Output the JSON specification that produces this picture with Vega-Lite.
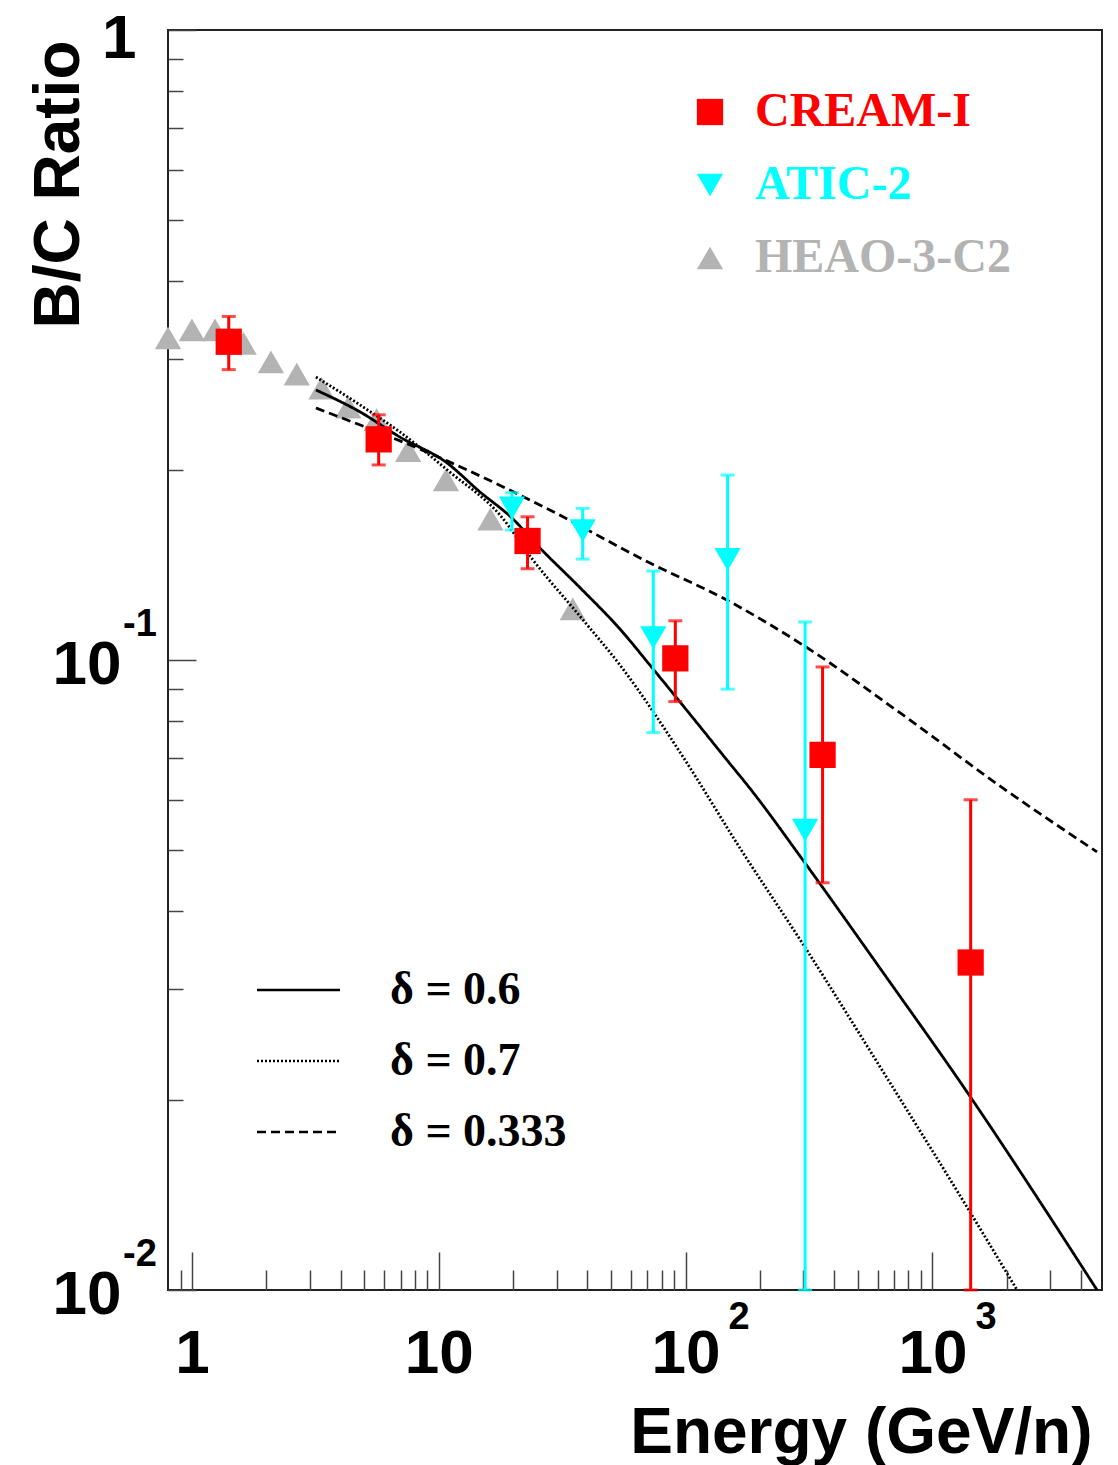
{
  "$schema": "https://vega.github.io/schema/vega-lite/v6.json",
  "width": 934,
  "height": 1260,
  "autosize": {"type": "none"},
  "padding": {"left": 168, "top": 30, "right": 16, "bottom": 175},
  "background": "white",
  "config": {"view": {"stroke": "#222", "strokeWidth": 2}, "font": "Liberation Sans"},
  "datasets": {
    "points": [
      {"series": "HEAO-3-C2", "E": 0.80, "R": 0.3245},
      {"series": "HEAO-3-C2", "E": 1.0, "R": 0.3341},
      {"series": "HEAO-3-C2", "E": 1.24, "R": 0.3341},
      {"series": "HEAO-3-C2", "E": 1.62, "R": 0.318},
      {"series": "HEAO-3-C2", "E": 2.09, "R": 0.2972},
      {"series": "HEAO-3-C2", "E": 2.66, "R": 0.2844},
      {"series": "HEAO-3-C2", "E": 3.35, "R": 0.2702},
      {"series": "HEAO-3-C2", "E": 4.30, "R": 0.2521},
      {"series": "HEAO-3-C2", "E": 5.60, "R": 0.2408},
      {"series": "HEAO-3-C2", "E": 7.52, "R": 0.215},
      {"series": "HEAO-3-C2", "E": 10.7, "R": 0.1931},
      {"series": "HEAO-3-C2", "E": 16.2, "R": 0.1674},
      {"series": "HEAO-3-C2", "E": 34.9, "R": 0.1205},
      {"series": "ATIC-2", "E": 19.8, "R": 0.1743, "lo": 0.1608, "hi": 0.1843},
      {"series": "ATIC-2", "E": 38.3, "R": 0.1604, "lo": 0.1446, "hi": 0.174},
      {"series": "ATIC-2", "E": 74.0, "R": 0.1085, "lo": 0.0767, "hi": 0.1384},
      {"series": "ATIC-2", "E": 148, "R": 0.1445, "lo": 0.0899, "hi": 0.1966},
      {"series": "ATIC-2", "E": 305, "R": 0.0537, "lo": 0.01, "hi": 0.1149},
      {"series": "CREAM-I", "E": 1.41, "R": 0.32, "lo": 0.289, "hi": 0.351},
      {"series": "CREAM-I", "E": 5.71, "R": 0.224, "lo": 0.204, "hi": 0.245},
      {"series": "CREAM-I", "E": 22.9, "R": 0.1545, "lo": 0.1396, "hi": 0.1688},
      {"series": "CREAM-I", "E": 90.9, "R": 0.1006, "lo": 0.0859, "hi": 0.1154},
      {"series": "CREAM-I", "E": 359, "R": 0.0707, "lo": 0.0443, "hi": 0.0975},
      {"series": "CREAM-I", "E": 1429, "R": 0.0331, "lo": 0.01, "hi": 0.06}
    ],
    "curves": [
      {"model": "δ = 0.6", "E": 3.18, "R": 0.2683},
      {"model": "δ = 0.6", "E": 4.80, "R": 0.2476},
      {"model": "δ = 0.6", "E": 6.96, "R": 0.2259},
      {"model": "δ = 0.6", "E": 10.7, "R": 0.2061},
      {"model": "δ = 0.6", "E": 14.7, "R": 0.1848},
      {"model": "δ = 0.6", "E": 19.8, "R": 0.168},
      {"model": "δ = 0.6", "E": 25.7, "R": 0.1506},
      {"model": "δ = 0.6", "E": 37.4, "R": 0.1302},
      {"model": "δ = 0.6", "E": 54.2, "R": 0.112},
      {"model": "δ = 0.6", "E": 73.8, "R": 0.0968},
      {"model": "δ = 0.6", "E": 104, "R": 0.0821},
      {"model": "δ = 0.6", "E": 147, "R": 0.0694},
      {"model": "δ = 0.6", "E": 182, "R": 0.0626},
      {"model": "δ = 0.6", "E": 305, "R": 0.0476},
      {"model": "δ = 0.6", "E": 614, "R": 0.0324},
      {"model": "δ = 0.6", "E": 1420, "R": 0.0203},
      {"model": "δ = 0.6", "E": 2730, "R": 0.0138},
      {"model": "δ = 0.6", "E": 4645, "R": 0.01},
      {"model": "δ = 0.7", "E": 3.18, "R": 0.2813},
      {"model": "δ = 0.7", "E": 4.80, "R": 0.254},
      {"model": "δ = 0.7", "E": 6.96, "R": 0.2301},
      {"model": "δ = 0.7", "E": 11.1, "R": 0.1987},
      {"model": "δ = 0.7", "E": 17.7, "R": 0.1699},
      {"model": "δ = 0.7", "E": 24.1, "R": 0.1441},
      {"model": "δ = 0.7", "E": 38.4, "R": 0.1158},
      {"model": "δ = 0.7", "E": 54.2, "R": 0.0982},
      {"model": "δ = 0.7", "E": 97.6, "R": 0.0702},
      {"model": "δ = 0.7", "E": 166, "R": 0.0503},
      {"model": "δ = 0.7", "E": 299, "R": 0.0354},
      {"model": "δ = 0.7", "E": 614, "R": 0.0226},
      {"model": "δ = 0.7", "E": 1420, "R": 0.0133},
      {"model": "δ = 0.7", "E": 2203, "R": 0.01},
      {"model": "δ = 0.333", "E": 3.18, "R": 0.2512},
      {"model": "δ = 0.333", "E": 11.1, "R": 0.2061},
      {"model": "δ = 0.333", "E": 28.2, "R": 0.173},
      {"model": "δ = 0.333", "E": 71.8, "R": 0.1425},
      {"model": "δ = 0.333", "E": 147, "R": 0.1245},
      {"model": "δ = 0.333", "E": 299, "R": 0.1056},
      {"model": "δ = 0.333", "E": 760, "R": 0.0818},
      {"model": "δ = 0.333", "E": 1932, "R": 0.0626},
      {"model": "δ = 0.333", "E": 4645, "R": 0.0496}
    ],
    "exponents": [
      {"axis": "x", "E": 100, "R": 0.01, "t": "2"},
      {"axis": "x", "E": 1000, "R": 0.01, "t": "3"},
      {"axis": "y", "E": 0.8, "R": 0.1, "t": "-1"},
      {"axis": "y", "E": 0.8, "R": 0.01, "t": "-2"}
    ]
  },
  "encoding": {
    "x": {
      "field": "E", "type": "quantitative",
      "scale": {"type": "log", "domain": [0.8, 4866], "nice": false},
      "axis": {
        "values": [0.9, 1, 2, 3, 4, 5, 6, 7, 8, 9, 10, 20, 30, 40, 50, 60, 70, 80, 90, 100, 200, 300, 400, 500, 600, 700, 800, 900, 1000, 2000, 3000, 4000],
        "labelExpr": "datum.value == 1 ? '1' : (datum.value == 10 || datum.value == 100 || datum.value == 1000) ? '10' : ''",
        "tickSize": {"condition": {"test": "datum.value == 1 || datum.value == 10 || datum.value == 100 || datum.value == 1000", "value": -38}, "value": -20},
        "labelPadding": 71,
        "labelBaseline": "top",
        "labelAlign": "center",
        "labelFont": "Liberation Sans", "labelFontWeight": "bold", "labelFontSize": 62, "labelColor": "black",
        "labelOverlap": false, "labelFlush": false, "labelBound": false,
        "tickColor": "#444", "tickWidth": 1.5, "domain": false, "grid": false,
        "title": "Energy (GeV/n)",
        "titleFont": "Liberation Sans", "titleFontWeight": "bold", "titleFontSize": 64, "titleColor": "black",
        "titleX": 924, "titleY": 162, "titleAlign": "right", "titleBaseline": "alphabetic", "titleAnchor": "end"
      }
    },
    "y": {
      "field": "R", "type": "quantitative",
      "scale": {"type": "log", "domain": [0.01, 1], "nice": false},
      "axis": {
        "values": [0.01, 0.02, 0.03, 0.04, 0.05, 0.06, 0.07, 0.08, 0.09, 0.1, 0.2, 0.3, 0.4, 0.5, 0.6, 0.7, 0.8, 0.9, 1],
        "labelExpr": "datum.value == 1 ? '1' : (datum.value == 0.1 || datum.value == 0.01) ? '10' : ''",
        "tickSize": {"condition": {"test": "datum.value == 1 || datum.value == 0.1 || datum.value == 0.01", "value": -28}, "value": -15},
        "labelPadding": {"condition": {"test": "datum.value == 1", "value": 60}, "value": 75},
        "labelOffset": {"condition": {"test": "datum.value == 1", "value": 8}, "value": 4},
        "labelAlign": "right", "labelBaseline": "middle",
        "labelFont": "Liberation Sans", "labelFontWeight": "bold", "labelFontSize": 62, "labelColor": "black",
        "labelOverlap": false, "labelFlush": false, "labelBound": false,
        "tickColor": "#444", "tickWidth": 1.5, "domain": false, "grid": false,
        "title": "B/C Ratio",
        "titleFont": "Liberation Sans", "titleFontWeight": "bold", "titleFontSize": 64, "titleColor": "black",
        "titleX": -90, "titleY": 10, "titleAngle": 270, "titleAlign": "right", "titleBaseline": "alphabetic"
      }
    }
  },
  "layer": [
    {
      "data": {"name": "points"},
      "transform": [{"filter": "datum.series === 'HEAO-3-C2'"}],
      "mark": {"type": "point", "filled": true, "opacity": 1, "size": 690, "strokeWidth": 0},
      "encoding": {
        "color": {
          "field": "series", "type": "nominal",
          "scale": {"domain": ["CREAM-I", "ATIC-2", "HEAO-3-C2"], "range": ["#ff0000", "#00ffff", "#b3b3b3"]},
          "legend": {
            "orient": "none", "legendX": 518, "legendY": 58, "title": null, "padding": 0,
            "symbolSize": 690, "symbolStrokeWidth": 0, "rowPadding": 25, "labelOffset": 21, "labelLimit": 600,
            "labelFont": "Liberation Serif", "labelFontWeight": "bold", "labelFontSize": 48,
            "labelColor": {"expr": "datum.value === 'CREAM-I' ? '#ff0000' : datum.value === 'ATIC-2' ? '#00ffff' : '#b3b3b3'"}
          }
        },
        "shape": {
          "field": "series", "type": "nominal",
          "scale": {"domain": ["CREAM-I", "ATIC-2", "HEAO-3-C2"], "range": ["square", "triangle-down", "triangle-up"]}
        }
      }
    },
    {
      "data": {"name": "curves"},
      "mark": {"type": "line", "color": "black", "strokeWidth": 2.8, "interpolate": "monotone"},
      "encoding": {
        "strokeDash": {
          "field": "model", "type": "nominal",
          "scale": {"domain": ["δ = 0.6", "δ = 0.7", "δ = 0.333"], "range": [[1, 0], [2, 2], [9, 5]]},
          "legend": {
            "orient": "none", "legendX": 107.5, "legendY": 937, "title": null, "padding": 0,
            "symbolType": "M-2,0H2", "symbolSize": 1722, "symbolStrokeWidth": 2.5,
            "symbolStrokeColor": "black", "symbolFillColor": "transparent",
            "rowPadding": 25, "labelOffset": 68.5, "labelLimit": 600,
            "labelFont": "Liberation Serif", "labelFontWeight": "bold", "labelFontSize": 46, "labelColor": "black"
          }
        }
      }
    },
    {
      "data": {"name": "points"},
      "transform": [{"filter": "isValid(datum.lo)"}],
      "mark": {"type": "rule", "strokeWidth": 3},
      "encoding": {
        "y": {"field": "lo", "type": "quantitative"},
        "y2": {"field": "hi"},
        "color": {"field": "series", "type": "nominal", "legend": null}
      }
    },
    {
      "data": {"name": "points"},
      "transform": [{"filter": "isValid(datum.lo)"}],
      "mark": {"type": "tick", "orient": "horizontal", "size": 14, "thickness": 3},
      "encoding": {
        "y": {"field": "lo", "type": "quantitative"},
        "color": {"field": "series", "type": "nominal", "legend": null}
      }
    },
    {
      "data": {"name": "points"},
      "transform": [{"filter": "isValid(datum.hi)"}],
      "mark": {"type": "tick", "orient": "horizontal", "size": 14, "thickness": 3},
      "encoding": {
        "y": {"field": "hi", "type": "quantitative"},
        "color": {"field": "series", "type": "nominal", "legend": null}
      }
    },
    {
      "data": {"name": "points"},
      "transform": [{"filter": "datum.series !== 'HEAO-3-C2'"}],
      "mark": {"type": "point", "filled": true, "opacity": 1, "size": 690, "strokeWidth": 0},
      "encoding": {
        "color": {"field": "series", "type": "nominal"},
        "shape": {"field": "series", "type": "nominal"}
      }
    },
    {
      "data": {"name": "exponents"},
      "transform": [{"filter": "datum.axis === 'x'"}],
      "mark": {"type": "text", "align": "left", "baseline": "middle", "dx": 43, "dy": 28, "font": "Liberation Sans", "fontWeight": "bold", "fontSize": 38, "color": "black"},
      "encoding": {
        "text": {"field": "t"}
      }
    },
    {
      "data": {"name": "exponents"},
      "transform": [{"filter": "datum.axis === 'y'"}],
      "mark": {"type": "text", "align": "left", "baseline": "middle", "dx": -45, "dy": -35, "font": "Liberation Sans", "fontWeight": "bold", "fontSize": 38, "color": "black"},
      "encoding": {
        "text": {"field": "t"}
      }
    }
  ]
}
